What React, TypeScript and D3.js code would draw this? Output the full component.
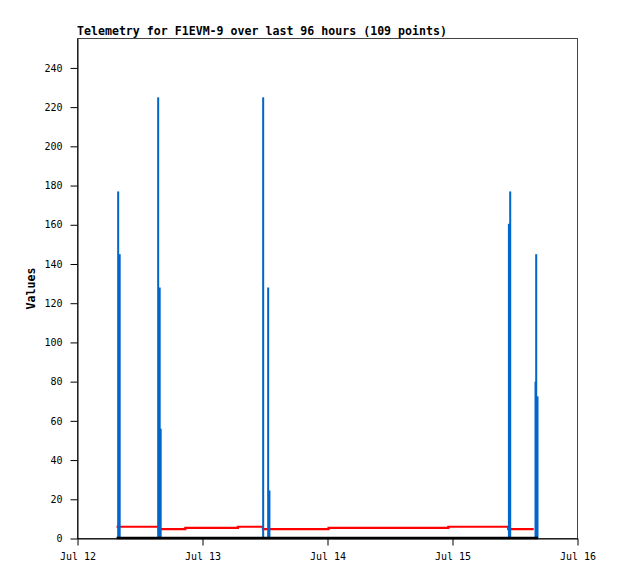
import React, { useEffect, useRef } from "react";
import * as d3 from "d3";

const title = "Telemetry for F1EVM-9 over last 96 hours (109 points)";
const yLabel = "Values";

// x domain: Jul 12 00:00 -> Jul 16 00:00
const dayStart = new Date(2024, 6, 12);
const dayEnd = new Date(2024, 6, 16);
const yTicks = [0, 20, 40, 60, 80, 100, 120, 140, 160, 180, 200, 220, 240];

// everything below is hours after Jul 12 00:00
const spikeHours = [7.81, 8.1, 15.49, 15.78, 15.97, 35.65, 36.61, 36.85, 82.83, 83.08, 87.94, 88.07, 88.32];
const spikeValues = [177, 145, 225, 128, 56, 225, 128, 24.5, 160.5, 177, 80, 145, 72.5];

const redHours = [7.5, 15.6, 20.7, 30.8, 35.6, 48.2, 71.2, 82.7, 87.6];
const redValues = [6.0, 4.8, 5.4, 6.0, 4.8, 5.4, 6.0, 4.8, 4.8];

const zeroHours = [7.5, 88.4];
const zeroValues = [0, 0];

const at = (h: number) => new Date(dayStart.getTime() + h * 3600 * 1000);

function chart(node: SVGSVGElement) {
  const width = 618;
  const height = 579;
  const marginTop = 38.5;
  const marginLeft = 77.5;
  const plotRight = 577.5;
  const plotBottom = 538.5;

  const svg = d3.select(node);
  svg.selectAll("*").remove();

  svg.append("rect").attr("width", width).attr("height", height).attr("fill", "#fff");

  const x = d3.scaleTime().domain([dayStart, dayEnd]).range([marginLeft, plotRight]);
  const y = d3.scaleLinear().domain([0, 255]).range([plotBottom, marginTop]);

  // frame
  svg.append("rect")
    .attr("x", marginLeft)
    .attr("y", marginTop)
    .attr("width", plotRight - marginLeft)
    .attr("height", plotBottom - marginTop)
    .attr("fill", "none")
    .attr("stroke", "#444");

  // red channel
  const redLine = d3.line<number>()
    .x((d, i) => x(at(redHours[i])))
    .y((d) => y(d))
    .curve(d3.curveStepAfter);
  svg.append("path")
    .attr("d", redLine(redValues))
    .attr("fill", "none")
    .attr("stroke", "#ff0000")
    .attr("stroke-width", 2.2);

  // blue spikes
  svg.append("g")
    .attr("fill", "#0066cc")
    .selectAll("rect")
    .data(spikeValues)
    .join("rect")
    .attr("x", (d, i) => x(at(spikeHours[i])) - 1)
    .attr("y", (d) => y(d))
    .attr("width", 2)
    .attr("height", (d) => y(0) - y(d));

  // zero channel
  const zeroLine = d3.line<number>()
    .x((d, i) => x(at(zeroHours[i])))
    .y((d) => y(d) - 0.5);
  svg.append("path")
    .attr("d", zeroLine(zeroValues))
    .attr("fill", "none")
    .attr("stroke", "#000")
    .attr("stroke-width", 2.5);

  // y axis
  svg.append("g")
    .attr("transform", `translate(${marginLeft},0)`)
    .call(d3.axisLeft(y).tickValues(yTicks).tickSize(7).tickPadding(8).tickSizeOuter(0))
    .call((g) => g.select(".domain").attr("stroke", "#000"))
    .call((g) => g.selectAll("line").attr("stroke", "#000"))
    .call((g) =>
      g.selectAll("text")
        .attr("font-family", "'DejaVu Sans Mono', monospace")
        .attr("font-size", 10)
        .attr("fill", "#000")
    );

  // x axis
  svg.append("g")
    .attr("transform", `translate(0,${plotBottom})`)
    .call(
      d3.axisBottom(x)
        .ticks(d3.timeDay.every(1))
        .tickFormat((d) => d3.timeFormat("%b %d")(d as Date))
        .tickSize(7)
        .tickPadding(7)
        .tickSizeOuter(0)
    )
    .call((g) => g.select(".domain").attr("stroke", "#000"))
    .call((g) => g.selectAll("line").attr("stroke", "#000"))
    .call((g) =>
      g.selectAll("text")
        .attr("font-family", "'DejaVu Sans Mono', monospace")
        .attr("font-size", 10)
        .attr("fill", "#000")
    );

  svg.append("text")
    .attr("x", 77)
    .attr("y", 35)
    .attr("font-family", "'DejaVu Sans Mono', monospace")
    .attr("font-weight", "bold")
    .attr("font-size", 11.6)
    .text(title);

  svg.append("text")
    .attr("transform", `translate(35,${(marginTop + plotBottom) / 2}) rotate(-90)`)
    .attr("text-anchor", "middle")
    .attr("font-family", "'DejaVu Sans Mono', monospace")
    .attr("font-weight", "bold")
    .attr("font-size", 11.6)
    .text(yLabel);
}

export default function App() {
  const ref = useRef<SVGSVGElement>(null);
  useEffect(() => {
    if (ref.current) chart(ref.current);
  }, []);
  return (
    <svg
      ref={ref}
      width={618}
      height={579}
      style={{ position: "absolute", left: 0, top: 0, display: "block" }}
    />
  );
}
